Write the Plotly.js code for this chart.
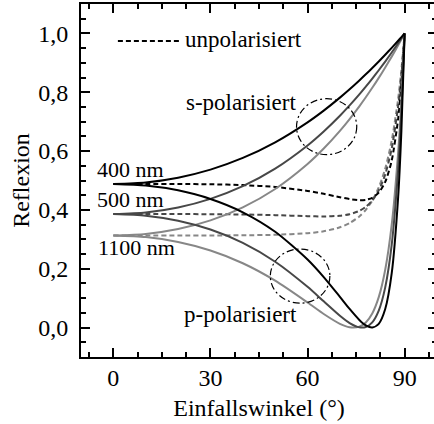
<!DOCTYPE html>
<html>
<head>
<meta charset="utf-8">
<script src="https://cdn.plot.ly/plotly-3.0.1.min.js"></script>
<style>
html,body{margin:0;padding:0;overflow:hidden;background:#fff;}
#chart{width:437px;height:424px;}
</style>
</head>
<body>
<div id="chart"></div>
<script>
// Einfallswinkel (°)
const angles = [0,10,20,30,40,50,60,65,70,73,76,78,80,82,84,86,88,89,90];

// 400 nm
const s400 = [0.4883,0.4936,0.5097,0.5371,0.5768,0.6299,0.6978,0.7377,0.7817,0.8101,0.8401,0.8609,0.8824,0.9046,0.9274,0.9510,0.9752,0.9875,1.0];
const p400 = [0.4883,0.4830,0.4665,0.4372,0.3920,0.3258,0.2314,0.1717,0.1046,0.0634,0.0261,0.0076,0.0000,0.0127,0.0629,0.1839,0.4445,0.6694,1.0];
const u400 = [0.4883,0.4883,0.4881,0.4872,0.4844,0.4779,0.4646,0.4547,0.4432,0.4368,0.4331,0.4343,0.4412,0.4587,0.4952,0.5675,0.7099,0.8285,1.0];

// 500 nm
const s500 = [0.3859,0.3914,0.4083,0.4376,0.4808,0.5404,0.6191,0.6666,0.7201,0.7552,0.7926,0.8189,0.8463,0.8748,0.9044,0.9351,0.9670,0.9834,1.0];
const p500 = [0.3859,0.3804,0.3633,0.3333,0.2880,0.2239,0.1385,0.0891,0.0401,0.0154,0.0009,0.0020,0.0179,0.0578,0.1368,0.2811,0.5383,0.7350,1.0];
const u500 = [0.3859,0.3859,0.3858,0.3855,0.3844,0.3822,0.3788,0.3779,0.3801,0.3853,0.3968,0.4105,0.4321,0.4663,0.5206,0.6081,0.7527,0.8592,1.0];

// 1100 nm
const s1100 = [0.3130,0.3184,0.3351,0.3644,0.4087,0.4711,0.5561,0.6086,0.6688,0.7090,0.7522,0.7829,0.8151,0.8488,0.8842,0.9211,0.9597,0.9797,1.0];
const p1100 = [0.3130,0.3076,0.2910,0.2620,0.2188,0.1596,0.0854,0.0462,0.0129,0.0013,0.0034,0.0176,0.0482,0.1035,0.1966,0.3488,0.5957,0.7726,1.0];
const u1100 = [0.3130,0.3130,0.3131,0.3132,0.3138,0.3154,0.3208,0.3274,0.3409,0.3552,0.3778,0.4003,0.4317,0.4762,0.5404,0.6350,0.7777,0.8762,1.0];

const wavelengths = ['400 nm','500 nm','1100 nm'];
const colors = ['#000000','#474747','#878787'];
const sSeries = [s400, s500, s1100];
const pSeries = [p400, p500, p1100];
const uSeries = [u400, u500, u1100];

const FONT = 'Liberation Serif';
const traces = [];
for (let i = 2; i >= 0; i--) {
  traces.push({x: angles, y: uSeries[i], mode: 'lines', name: 'unpolarisiert ' + wavelengths[i],
    line: {color: colors[i], width: 2, dash: '5px,3px', shape: 'spline', smoothing: 0.7}, showlegend: false});
}
for (let i = 2; i >= 0; i--) {
  traces.push({x: angles, y: sSeries[i], mode: 'lines', name: 's ' + wavelengths[i],
    line: {color: colors[i], width: 2, shape: 'spline', smoothing: 0.7}, showlegend: false});
  traces.push({x: angles, y: pSeries[i], mode: 'lines', name: 'p ' + wavelengths[i],
    line: {color: colors[i], width: 2, shape: 'spline', smoothing: 0.7}, showlegend: false});
}

const layout = {
  width: 437, height: 424,
  margin: {l: 81, r: 0, t: 4, b: 67},
  paper_bgcolor: '#fff', plot_bgcolor: '#fff',
  separators: ', ',
  font: {family: FONT, size: 24, color: '#000'},
  showlegend: false,
  xaxis: {
    range: [-10, 100], tick0: 0, dtick: 30, ticks: 'inside', ticklen: 9, tickwidth: 2,
    tickcolor: '#000', showline: true, linewidth: 2, linecolor: '#000', mirror: 'ticks',
    showgrid: false, zeroline: false, ticklabelstandoff: -2,
    minor: {dtick: 7.5, tick0: 0, ticks: 'inside', ticklen: 5, tickwidth: 2, tickcolor: '#000'},
    tickfont: {family: FONT, size: 24},
    title: {text: 'Einfallswinkel (°)', font: {family: FONT, size: 24}, standoff: 9}
  },
  yaxis: {
    range: [-0.1, 1.1], tick0: 0, dtick: 0.2, tickformat: '.1f', ticks: 'inside', ticklen: 9, tickwidth: 2,
    tickcolor: '#000', showline: true, linewidth: 2, linecolor: '#000', mirror: 'ticks',
    showgrid: false, zeroline: false, ticklabelstandoff: 6,
    minor: {dtick: 0.05, tick0: 0, ticks: 'inside', ticklen: 5, tickwidth: 2, tickcolor: '#000'},
    tickfont: {family: FONT, size: 24},
    title: {text: 'Reflexion', font: {family: FONT, size: 24}, standoff: 2}
  },
  annotations: [
    {xref: 'x', yref: 'y', x: -5.7, y: 0.539, text: wavelengths[0], showarrow: false, xanchor: 'left', yanchor: 'middle', font: {family: FONT, size: 22}},
    {xref: 'x', yref: 'y', x: -5.7, y: 0.437, text: wavelengths[1], showarrow: false, xanchor: 'left', yanchor: 'middle', font: {family: FONT, size: 22}},
    {xref: 'x', yref: 'y', x: -5.3, y: 0.273, text: wavelengths[2], showarrow: false, xanchor: 'left', yanchor: 'middle', font: {family: FONT, size: 22}},
    {xref: 'x', yref: 'y', x: 39.4, y: 0.766, text: 's-polarisiert', showarrow: false, xanchor: 'center', yanchor: 'middle', font: {family: FONT, size: 23}},
    {xref: 'x', yref: 'y', x: 39.4, y: 0.044, text: 'p-polarisiert', showarrow: false, xanchor: 'center', yanchor: 'middle', font: {family: FONT, size: 23}},
    {xref: 'x', yref: 'y', x: 21.5, y: 0.981, text: 'unpolarisiert', showarrow: false, xanchor: 'left', yanchor: 'middle', font: {family: FONT, size: 23}}
  ],
  shapes: [
    {type: 'line', xref: 'x', yref: 'y', x0: 1.4, x1: 20.6, y0: 0.974, y1: 0.974, line: {color: '#000', width: 2, dash: '5px,3px'}},
    {type: 'circle', xref: 'x', yref: 'y', x0: 56.6, x1: 75.2, y0: 0.588, y1: 0.778, line: {color: '#000', width: 1.2, dash: '7px,3px,2px,3px'}},
    {type: 'circle', xref: 'x', yref: 'y', x0: 48.5, x1: 66.9, y0: 0.083, y1: 0.267, line: {color: '#000', width: 1.2, dash: '7px,3px,2px,3px'}}
  ]
};

Plotly.newPlot('chart', traces, layout, {displayModeBar: false, staticPlot: true});
</script>
</body>
</html>
